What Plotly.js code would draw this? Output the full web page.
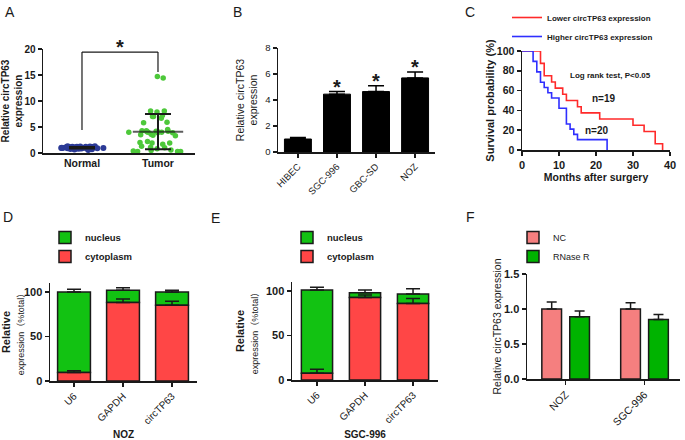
<!DOCTYPE html>
<html><head><meta charset="utf-8">
<script src="https://cdn.plot.ly/plotly-3.0.1.min.js"></script>
<style>html,body{margin:0;padding:0;background:#fff}#chart{width:685px;height:440px}</style>
</head><body><div id="chart"></div>
<script>
// ---------- Panel A: scatter (relative circTP63 expression) ----------
const aCategories = ['Normal', 'Tumor'];
const aNormal = [1.3,1.25,1.2,1.2,1.15,1.1,1.1,1.05,1.05,1.0,1.0,1.0,1.0,0.95,0.95,0.95,0.9,0.9,0.9,0.85,0.85,0.8,0.8,0.75,0.7,0.65,0.6,1.0,1.0,1.05,1.1,0.95,0.9,1.15,1.2,1.25,1.3,0.85,1.0,0.95];
const aTumor = [14.7,14.4,8.1,8.1,7.9,7.2,7.0,7.0,6.7,5.9,5.8,4.5,4.3,4.2,4.1,4.0,4.0,3.9,3.9,4.0,4.1,4.2,4.3,3.6,3.5,3.4,3.3,2.2,2.0,1.9,1.9,1.7,1.3,1.1,1.0,0.8,0.6,0.5,0.4,0.3,0.3,0.3];
const aMean = [1.0, 4.1];
const aSD = [0.15, 3.4];

// ---------- Panel B: cell lines ----------
const bCategories = ['HIBEC', 'SGC-996', 'GBC-SD', 'NOZ'];
const bValues = [1.0, 4.45, 4.65, 5.7];
const bErrors = [0.12, 0.2, 0.45, 0.45];
const bSignificance = ['', '*', '*', '*'];

// ---------- Panel C: Kaplan-Meier ----------
const cLowerMonths = [0,5,6,8,9,11,12,15,16,21,30,33,36,38];
const cLowerSurv   = [100,87.5,75,68.75,62.5,56.25,50,43.75,37.5,31.25,25,18.75,6.25,0];
const cHigherMonths = [0,3,4,5,6,7,8,10,12,13,14,15,23];
const cHigherSurv   = [100,89.5,78.9,68.4,63.2,57.9,52.6,42.1,26.3,21.1,15.8,10.5,0];

// ---------- Panels D, E: fractionation ----------
const fracCategories = ['U6', 'GAPDH', 'circTP63'];
const dCytoplasm = [9.5, 88, 85];
const dCytoErr   = [2, 4, 4.5];
const dNucleus   = [90.5, 13.8, 15];
const dNucErr    = [3, 3, 1.8];
const eCytoplasm = [7.5, 92.5, 86];
const eCytoErr   = [4.5, 3, 5.5];
const eNucleus   = [93.5, 5.5, 10.5];
const eNucErr    = [3, 3, 6];

// ---------- Panel F: RNase R ----------
const fCategories = ['NOZ', 'SGC-996'];
const fNC = [1.0, 1.0];
const fNCErr = [0.1, 0.09];
const fRNase = [0.89, 0.85];
const fRNaseErr = [0.08, 0.07];

// ---------- helpers ----------
const W = 685, H = 440;
const fx = p => p / W;
const fy = p => 1 - p / H;
const FONT = 'Liberation Sans, Arial, Noto Sans CJK SC, sans-serif';
const INK = '#1a1a1a';
function axis(domain, extra) {
  return Object.assign({
    domain: domain, showline: true, linecolor: INK, linewidth: 1.5,
    ticks: 'outside', ticklen: 4, tickwidth: 1.5, tickcolor: INK,
    showgrid: false, zeroline: false, fixedrange: true, automargin: false
  }, extra);
}
const GREEN = '#12C212', RED = '#FF4646', PINK = '#F57F7F', FGREEN = '#00B300';
const outline = {color: INK, width: 1.5};

const traces = [];
// A
traces.push({type: 'box', name: aCategories[0], y: aNormal, xaxis: 'x', yaxis: 'y',
  boxpoints: 'all', jitter: 1, pointpos: 0, width: 0.9, whiskerwidth: 0,
  fillcolor: 'rgba(0,0,0,0)', line: {width: 0, color: 'rgba(0,0,0,0)'},
  marker: {color: '#2B3A96', size: 6}, showlegend: false, hoverinfo: 'y'});
traces.push({type: 'box', name: aCategories[1], y: aTumor, xaxis: 'x', yaxis: 'y',
  boxpoints: 'all', jitter: 1, pointpos: 0, width: 1.2, whiskerwidth: 0,
  fillcolor: 'rgba(0,0,0,0)', line: {width: 0, color: 'rgba(0,0,0,0)'},
  marker: {color: '#4DC83A', size: 5.5}, showlegend: false, hoverinfo: 'y'});
traces.push({type: 'scatter', mode: 'markers', x: aCategories, y: aMean, xaxis: 'x', yaxis: 'y',
  marker: {symbol: 'line-ew', size: [16, 36], line: {width: 2, color: INK}},
  error_y: {type: 'data', array: aSD, width: 13, thickness: 2, color: INK},
  showlegend: false});
// B
traces.push({type: 'bar', x: bCategories, y: bValues, xaxis: 'x2', yaxis: 'y2', width: 0.69,
  marker: {color: '#000', line: {color: '#000', width: 1}},
  error_y: {type: 'data', symmetric: false, array: bErrors, arrayminus: bErrors.map(() => 0), width: 8, thickness: 1.5, color: '#000'},
  showlegend: false});
// C
traces.push({type: 'scatter', mode: 'lines', name: 'Lower circTP63 expression', x: cLowerMonths, y: cLowerSurv,
  xaxis: 'x3', yaxis: 'y3', line: {shape: 'hv', color: '#FF2A2A', width: 1.6}, legend: 'legend'});
traces.push({type: 'scatter', mode: 'lines', name: 'Higher circTP63 expression', x: cHigherMonths, y: cHigherSurv,
  xaxis: 'x3', yaxis: 'y3', line: {shape: 'hv', color: '#2F2FFF', width: 1.6}, legend: 'legend'});
// D, E
function fracTraces(cyto, cytoErr, nuc, nucErr, xa, ya, lg, w) {
  return [
    {type: 'bar', name: 'nucleus', x: fracCategories, y: nuc, base: cyto, xaxis: xa, yaxis: ya, width: w,
      marker: {color: GREEN, line: outline}, legend: lg,
      error_y: {type: 'data', symmetric: false, array: nucErr, arrayminus: nucErr.map(() => 0), width: 7, thickness: 1.5, color: INK}},
    {type: 'bar', name: 'cytoplasm', x: fracCategories, y: cyto, xaxis: xa, yaxis: ya, width: w,
      marker: {color: RED, line: outline}, legend: lg,
      error_y: {type: 'data', symmetric: false, array: cytoErr, arrayminus: cytoErr.map(() => 0), width: 7, thickness: 1.5, color: INK}}
  ];
}
traces.push(...fracTraces(dCytoplasm, dCytoErr, dNucleus, dNucErr, 'x4', 'y4', 'legend2', 0.67));
traces.push(...fracTraces(eCytoplasm, eCytoErr, eNucleus, eNucErr, 'x5', 'y5', 'legend3', 0.65));
// F
traces.push({type: 'bar', name: 'NC', x: fCategories, y: fNC, xaxis: 'x6', yaxis: 'y6', width: 0.25, offset: -0.302,
  marker: {color: PINK, line: outline}, legend: 'legend4',
  error_y: {type: 'data', symmetric: false, array: fNCErr, arrayminus: fNCErr.map(() => 0), width: 5, thickness: 1.5, color: INK}});
traces.push({type: 'bar', name: 'RNase R', x: fCategories, y: fRNase, xaxis: 'x6', yaxis: 'y6', width: 0.25, offset: 0.052,
  marker: {color: FGREEN, line: outline}, legend: 'legend4',
  error_y: {type: 'data', symmetric: false, array: fRNaseErr, arrayminus: fRNaseErr.map(() => 0), width: 5, thickness: 1.5, color: INK}});

const boldTick = s => ({family: FONT, size: s, color: INK, weight: 'bold'});
const regTick = s => ({family: FONT, size: s, color: INK});

const layout = {
  width: W, height: H, margin: {l: 0, r: 0, t: 0, b: 0},
  paper_bgcolor: '#fff', plot_bgcolor: 'rgba(0,0,0,0)',
  font: {family: FONT, color: INK},
  barmode: 'overlay', boxgap: 0, boxmode: 'overlay', showlegend: true,
  xaxis: axis([fx(43), fx(195)], {anchor: 'y', type: 'category', range: [-0.513, 1.487], ticks: '', tickfont: boldTick(10.5)}),
  yaxis: axis([fy(153), fy(49)], {anchor: 'x', range: [0, 20], dtick: 5, tickfont: boldTick(10),
    title: {text: 'Relative circTP63<br>expression', font: {family: FONT, size: 10, weight: 'bold'}, standoff: 3}}),
  xaxis2: axis([fx(278), fx(435)], {anchor: 'y2', type: 'category', range: [-0.51, 3.51], tickangle: -45, tickfont: regTick(9.5)}),
  yaxis2: axis([fy(152), fy(48)], {anchor: 'x2', range: [0, 8], dtick: 2, tickfont: regTick(9.5),
    title: {text: 'Relative circTP63<br>expression', font: {family: FONT, size: 10.5}, standoff: 5}}),
  xaxis3: axis([fx(522), fx(670)], {anchor: 'y3', range: [0, 40], dtick: 10, tickfont: boldTick(11),
    title: {text: 'Months after surgery', font: {family: FONT, size: 10.5, weight: 'bold'}, standoff: 2}}),
  yaxis3: axis([fy(150), fy(51)], {anchor: 'x3', range: [0, 100], dtick: 20, tickfont: boldTick(10.5),
    title: {text: 'Survival probability (%)', font: {family: FONT, size: 11, weight: 'bold'}, standoff: 0}}),
  xaxis4: axis([fx(50), fx(197)], {anchor: 'y4', type: 'category', range: [-0.49, 2.51], tickangle: -45, tickfont: regTick(10),
    title: {text: 'NOZ', font: {family: FONT, size: 10, weight: 'bold'}, standoff: 10}}),
  yaxis4: axis([fy(381), fy(283)], {anchor: 'x4', range: [0, 110], tickvals: [0, 50, 100], tickfont: boldTick(11),
    title: {text: '<b>Relative</b><br><span style="font-size:9px">expression（%total）</span>', font: {family: FONT, size: 11}, standoff: 5}}),
  xaxis5: axis([fx(292), fx(438)], {anchor: 'y5', type: 'category', range: [-0.52, 2.52], tickangle: -45, tickfont: regTick(10),
    title: {text: 'SGC-996', font: {family: FONT, size: 10, weight: 'bold'}, standoff: 12}}),
  yaxis5: axis([fy(380), fy(282)], {anchor: 'x5', range: [0, 110], tickvals: [0, 50, 100], tickfont: boldTick(11),
    title: {text: '<b>Relative</b><br><span style="font-size:9px">expression（%total）</span>', font: {family: FONT, size: 11}, standoff: 5}}),
  xaxis6: axis([fx(527), fx(680)], {anchor: 'y6', type: 'category', range: [-0.49, 1.45], tickangle: -45, tickfont: regTick(10.5)}),
  yaxis6: axis([fy(379), fy(274)], {anchor: 'x6', range: [0, 1.5], dtick: 0.5, tickformat: '.1f', tickfont: boldTick(11),
    title: {text: 'Relative circTP63 expression', font: {family: FONT, size: 10.5}, standoff: 0}}),
  legend: {x: fx(507), y: fy(3), xanchor: 'left', yanchor: 'top', bgcolor: 'rgba(0,0,0,0)',
    font: {family: FONT, size: 8, weight: 'bold'}, itemclick: false, itemdoubleclick: false},
  legend2: {x: fx(45), y: fy(223), xanchor: 'left', yanchor: 'top', bgcolor: 'rgba(0,0,0,0)',
    font: {family: FONT, size: 9.5, weight: 'bold'}, itemclick: false, itemdoubleclick: false},
  legend3: {x: fx(287), y: fy(223), xanchor: 'left', yanchor: 'top', bgcolor: 'rgba(0,0,0,0)',
    font: {family: FONT, size: 9.5, weight: 'bold'}, itemclick: false, itemdoubleclick: false},
  legend4: {x: fx(513), y: fy(223), xanchor: 'left', yanchor: 'top', bgcolor: 'rgba(0,0,0,0)',
    font: {family: FONT, size: 9}, itemclick: false, itemdoubleclick: false},
  shapes: [
    {type: 'line', xref: 'x', yref: 'y', x0: 0, x1: 0, y0: 4.4, y1: 19.4, line: {color: INK, width: 1.2}},
    {type: 'line', xref: 'x', yref: 'y', x0: 0, x1: 1, y0: 19.4, y1: 19.4, line: {color: INK, width: 1.2}},
    {type: 'line', xref: 'x', yref: 'y', x0: 1, x1: 1, y0: 15.6, y1: 19.4, line: {color: INK, width: 1.2}}
  ],
  annotations: []
};

const letters = [['A', 10, 12], ['B', 237, 12], ['C', 470, 12], ['D', 8, 217], ['E', 215, 218], ['F', 470, 217]];
letters.forEach(([t, x, y]) => layout.annotations.push({text: t, x: fx(x), y: fy(y), xref: 'paper', yref: 'paper',
  showarrow: false, xanchor: 'center', yanchor: 'middle', font: {family: FONT, size: 14, color: INK}}));
layout.annotations.push({text: '*', x: 0.5, y: 19.4, xref: 'x', yref: 'y', showarrow: false, yanchor: 'bottom', yshift: -8,
  font: {family: FONT, size: 20, weight: 'bold', color: INK}});
bCategories.forEach((c, i) => {
  if (!bSignificance[i]) return;
  layout.annotations.push({text: bSignificance[i], x: i, y: bValues[i] + bErrors[i], xref: 'x2', yref: 'y2',
    showarrow: false, yanchor: 'bottom', yshift: -8, font: {family: FONT, size: 20, weight: 'bold', color: INK}});
});
layout.annotations.push({text: 'Log rank test, P<0.05', x: 12.4, y: 75.7, xref: 'x3', yref: 'y3', showarrow: false,
  xanchor: 'left', font: {family: FONT, size: 8, weight: 'bold', color: INK}});
layout.annotations.push({text: 'n=19', x: 18.4, y: 52.5, xref: 'x3', yref: 'y3', showarrow: false,
  xanchor: 'left', font: {family: FONT, size: 10, weight: 'bold', color: INK}});
layout.annotations.push({text: 'n=20', x: 16.5, y: 20, xref: 'x3', yref: 'y3', showarrow: false,
  xanchor: 'left', font: {family: FONT, size: 10, weight: 'bold', color: INK}});

Plotly.newPlot('chart', traces, layout, {staticPlot: true, displayModeBar: false});
</script>
</body></html>
